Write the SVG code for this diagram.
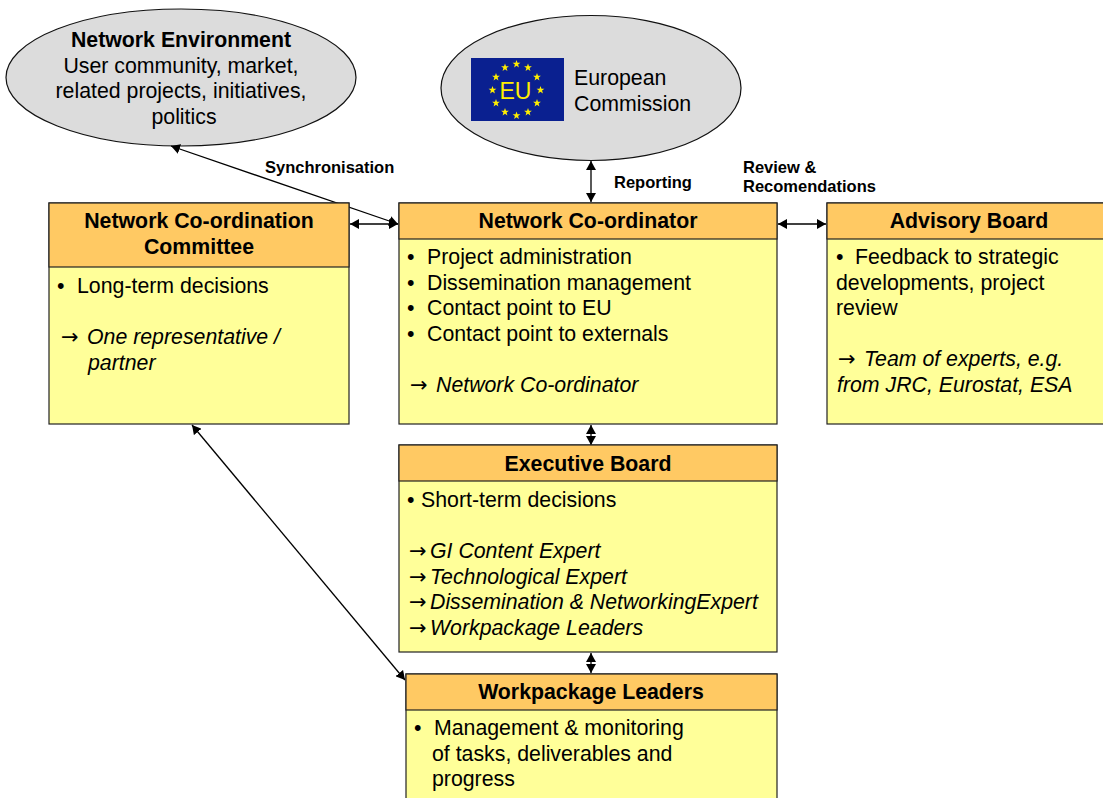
<svg xmlns="http://www.w3.org/2000/svg" width="1103" height="798" viewBox="0 0 1103 798">
<style>
text{font-family:"Liberation Sans",Arial,sans-serif;fill:#000;font-size:21.3px}
.h{font-weight:bold;text-anchor:middle}
.l{font-weight:bold;font-size:16.5px}
.i{font-style:italic}
.a{font-family:"DejaVu Sans",sans-serif;font-size:21px}
.head{fill:#ffc963;stroke:#222;stroke-width:1.2}
.body{fill:#ffff99;stroke:#222;stroke-width:1.2}
.ell{fill:#dcdcdc;stroke:#111;stroke-width:1.2}
.c{stroke:#000;stroke-width:1.3;fill:none;marker-start:url(#ah);marker-end:url(#ah)}
</style>
<defs>
<marker id="ah" viewBox="0 0 9 10" refX="9" refY="5" markerUnits="userSpaceOnUse" markerWidth="9" markerHeight="10" orient="auto-start-reverse"><path d="M0 0L9 5L0 10z" fill="#000"/></marker>
<polygon id="star" points="0,-3.9 1,-1.2 3.9,-1.2 1.6,0.5 2.4,3.4 0,1.7 -2.4,3.4 -1.6,0.5 -3.9,-1.2 -1,-1.2" fill="#ffee00"/>
</defs>
<g id="network-environment">
<ellipse class="ell" cx="181" cy="77.500" rx="175" ry="68.500"/>
<text class="h" x="181" y="47">Network Environment</text>
<text x="181" y="73" text-anchor="middle">User community, market,</text>
<text x="181" y="98" text-anchor="middle">related projects, initiatives,</text>
<text x="184" y="124" text-anchor="middle">politics</text>
</g>
<g id="european-commission">
<ellipse class="ell" cx="591" cy="88" rx="150" ry="72.500"/>
<rect x="471" y="58" width="93" height="63" fill="#0a2090"/>
<use href="#star" x="516.500" y="64"/><use href="#star" x="528" y="67.500"/><use href="#star" x="537" y="77"/><use href="#star" x="540.500" y="90"/><use href="#star" x="537" y="103"/><use href="#star" x="528" y="112"/><use href="#star" x="516.500" y="115.500"/><use href="#star" x="505" y="112"/><use href="#star" x="496" y="103"/><use href="#star" x="492.500" y="90"/><use href="#star" x="496" y="77"/><use href="#star" x="505" y="67.500"/>
<text x="515.500" y="99" text-anchor="middle" style="fill:#ffee00;font-size:23px">EU</text>
<text x="574" y="85">European</text>
<text x="574" y="111">Commission</text>
</g>
<g id="connectors">
<line class="c" x1="171" y1="146" x2="398" y2="224"/>
<line class="c" x1="350" y1="224" x2="398" y2="224"/>
<line class="c" x1="591" y1="161" x2="591" y2="202"/>
<line class="c" x1="778" y1="224" x2="826" y2="224"/>
<line class="c" x1="591" y1="425" x2="591" y2="445"/>
<line class="c" x1="591" y1="653" x2="591" y2="673"/>
<line class="c" x1="192" y1="425" x2="405" y2="680"/>
</g>
<g id="connector-labels">
<text class="l" x="265" y="173">Synchronisation</text>
<text class="l" x="614" y="188">Reporting</text>
<text class="l" x="743" y="173">Review &amp;</text>
<text class="l" x="743" y="192">Recomendations</text>
</g>
<g id="coordination-committee">
<rect class="body" x="49" y="203" width="300" height="221"/>
<rect class="head" x="49" y="203" width="300" height="64"/>
<text class="h" x="199" y="228">Network Co-ordination</text>
<text class="h" x="199" y="254">Committee</text>
<text x="57" y="293">•</text><text x="77" y="293">Long-term decisions</text>
<text x="61" y="344" class="a">→</text><text class="i" x="87" y="344">One representative /</text>
<text class="i" x="88" y="370">partner</text>
</g>
<g id="network-coordinator">
<rect class="body" x="399" y="203" width="378" height="221"/>
<rect class="head" x="399" y="203" width="378" height="36"/>
<text class="h" x="588" y="228">Network Co-ordinator</text>
<text x="407" y="264">•</text><text x="427" y="264">Project administration</text>
<text x="407" y="290">•</text><text x="427" y="290">Dissemination management</text>
<text x="407" y="315">•</text><text x="427" y="315">Contact point to EU</text>
<text x="407" y="341">•</text><text x="427" y="341">Contact point to externals</text>
<text x="410" y="392" class="a">→</text><text class="i" x="436" y="392">Network Co-ordinator</text>
</g>
<g id="advisory-board">
<rect class="body" x="827" y="203" width="290" height="221"/>
<rect class="head" x="827" y="203" width="290" height="36"/>
<text class="h" x="969" y="228">Advisory Board</text>
<text x="836" y="264">•</text><text x="855" y="264">Feedback to strategic</text>
<text x="836" y="290">developments, project</text>
<text x="836" y="315">review</text>
<text x="838" y="366" class="a">→</text><text class="i" x="864" y="366">Team of experts, e.g.</text>
<text class="i" x="837" y="392">from JRC, Eurostat, ESA</text>
</g>
<g id="executive-board">
<rect class="body" x="399" y="445" width="378" height="207"/>
<rect class="head" x="399" y="445" width="378" height="36"/>
<text class="h" x="588" y="471">Executive Board</text>
<text x="407" y="507">•</text><text x="421" y="507">Short-term decisions</text>
<text x="409" y="558" class="a">→</text><text class="i" x="430" y="558">GI Content Expert</text>
<text x="409" y="584" class="a">→</text><text class="i" x="430" y="584">Technological Expert</text>
<text x="409" y="609" class="a">→</text><text class="i" x="430" y="609">Dissemination &amp; NetworkingExpert</text>
<text x="409" y="635" class="a">→</text><text class="i" x="430" y="635">Workpackage Leaders</text>
</g>
<g id="workpackage-leaders">
<rect class="body" x="406" y="674" width="371" height="140"/>
<rect class="head" x="406" y="674" width="371" height="36"/>
<text class="h" x="591" y="699">Workpackage Leaders</text>
<text x="414" y="735">•</text><text x="434" y="735">Management &amp; monitoring</text>
<text x="432" y="761">of tasks, deliverables and</text>
<text x="432" y="786">progress</text>
</g>
</svg>
